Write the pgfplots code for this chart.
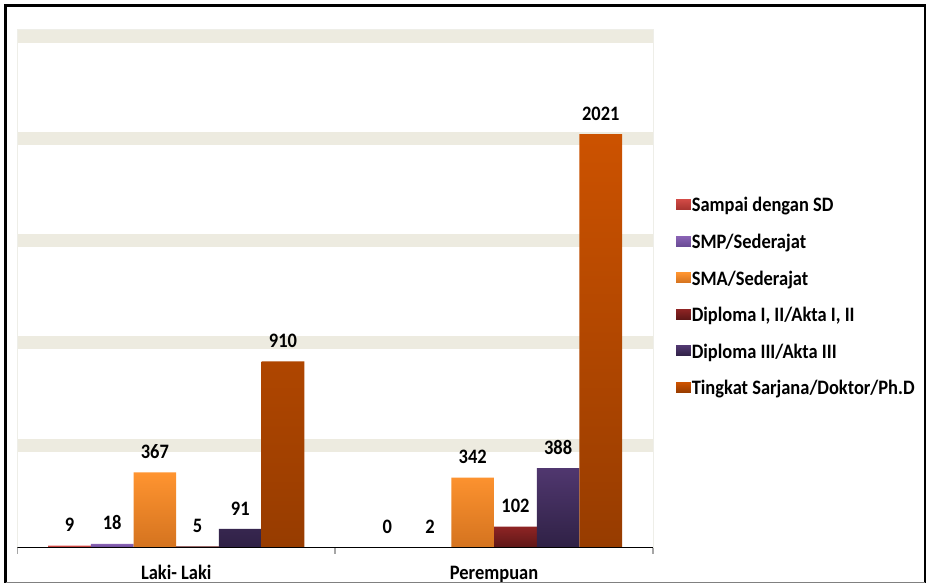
\documentclass[border=0pt]{standalone}
\usepackage{pgfplots}
\pgfplotsset{compat=1.18}
\usepackage{fontspec}
\setmainfont{Carlito}[FakeStretch=0.9]
\definecolor{gridcol}{HTML}{EDEBE0}
\definecolor{edgecol}{HTML}{EEEEE8}
\definecolor{baseline}{HTML}{A6A6A6}
\definecolor{aT}{HTML}{D14A45}\definecolor{aB}{HTML}{A83430}
\definecolor{bT}{HTML}{8A63B5}\definecolor{bB}{HTML}{6A4C96}
\definecolor{cT}{HTML}{FF9430}\definecolor{cB}{HTML}{D4731F}
\definecolor{dT}{HTML}{8E2424}\definecolor{dB}{HTML}{5E1717}
\definecolor{eT}{HTML}{50376F}\definecolor{eB}{HTML}{2F2145}
\definecolor{fT}{HTML}{CC5200}\definecolor{fB}{HTML}{973C00}
\newcommand{\lab}{\fontsize{20.5bp}{24bp}\selectfont\bfseries}
\begin{document}
\begin{tikzpicture}
\useasboundingbox (0,0) rectangle (927bp,585bp);
\fill[white] (0,0) rectangle (927bp,585bp);
\begin{axis}[
  at={(17.3bp,37.5bp)}, anchor=south west,
  scale only axis, width=635.7bp, height=518.2bp,
  xmin=-0.5, xmax=1.5, ymin=0, ymax=2533,
  ybar=0pt, bar width=42.7bp,
  xtick={0,1}, xticklabels={Laki- Laki,Perempuan},
  xticklabel style={font=\lab, anchor=base, yshift=-32bp},
  xtick pos=bottom, ytick pos=left,
  major tick length=0pt,
  extra x ticks={-0.5,0.5,1.5}, extra x tick labels={},
  extra x tick style={grid=none, major tick length=6bp, tick align=outside,
     major tick style={draw=baseline, line width=1.5bp}},
  ytick={500,1000,1500,2000,2500}, yticklabels={},
  ymajorgrids, major grid style={draw=gridcol, line width=13bp},
  axis line style={draw=edgecol, line width=0.8bp},
  /pgf/number format/assume math mode=true,
  nodes near coords={\pgfmathprintnumber[1000 sep={},assume math mode=true]{\pgfplotspointmeta}},
  every node near coord/.append style={font=\lab, text=black, anchor=south, inner sep=0pt, yshift=13.5bp},
  legend image code/.code={\path[#1, draw=none] (0bp,-2bp) rectangle (14.6bp,8bp);},
  legend style={at={(1.0362,0.673)}, anchor=north west, draw=none, fill=none,
     font=\lab, row sep=19.6bp, inner sep=0pt,
     nodes={inner sep=1bp, text height=12bp, text depth=3bp}},
  legend cell align=left,
]
\addplot[draw=none, top color=aT, bottom color=aB] coordinates {(0,9) (1,0)};
\addplot[draw=none, top color=bT, bottom color=bB] coordinates {(0,18) (1,2)};
\addplot[draw=none, top color=cT, bottom color=cB] coordinates {(0,367) (1,342)};
\addplot[draw=none, top color=dT, bottom color=dB] coordinates {(0,5) (1,102)};
\addplot[draw=none, top color=eT, bottom color=eB] coordinates {(0,91) (1,388)};
\addplot[draw=none, top color=fT, bottom color=fB] coordinates {(0,910) (1,2021)};
\legend{Sampai dengan SD,SMP/Sederajat,SMA/Sederajat,{Diploma I, II/Akta I, II},Diploma III/Akta III,Tingkat Sarjana/Doktor/Ph.D}
\draw[baseline, line width=1.5bp] (rel axis cs:0,0) -- (rel axis cs:1,0);
\end{axis}
\draw[black, line width=2.6bp] (5.5bp,2bp) -- (5.5bp,579.5bp) -- (924.8bp,579.5bp) -- (924.8bp,2bp);
\draw[gray, line width=1.2bp] (5.5bp,2.2bp) -- (924.8bp,2.2bp);
\end{tikzpicture}
\end{document}
